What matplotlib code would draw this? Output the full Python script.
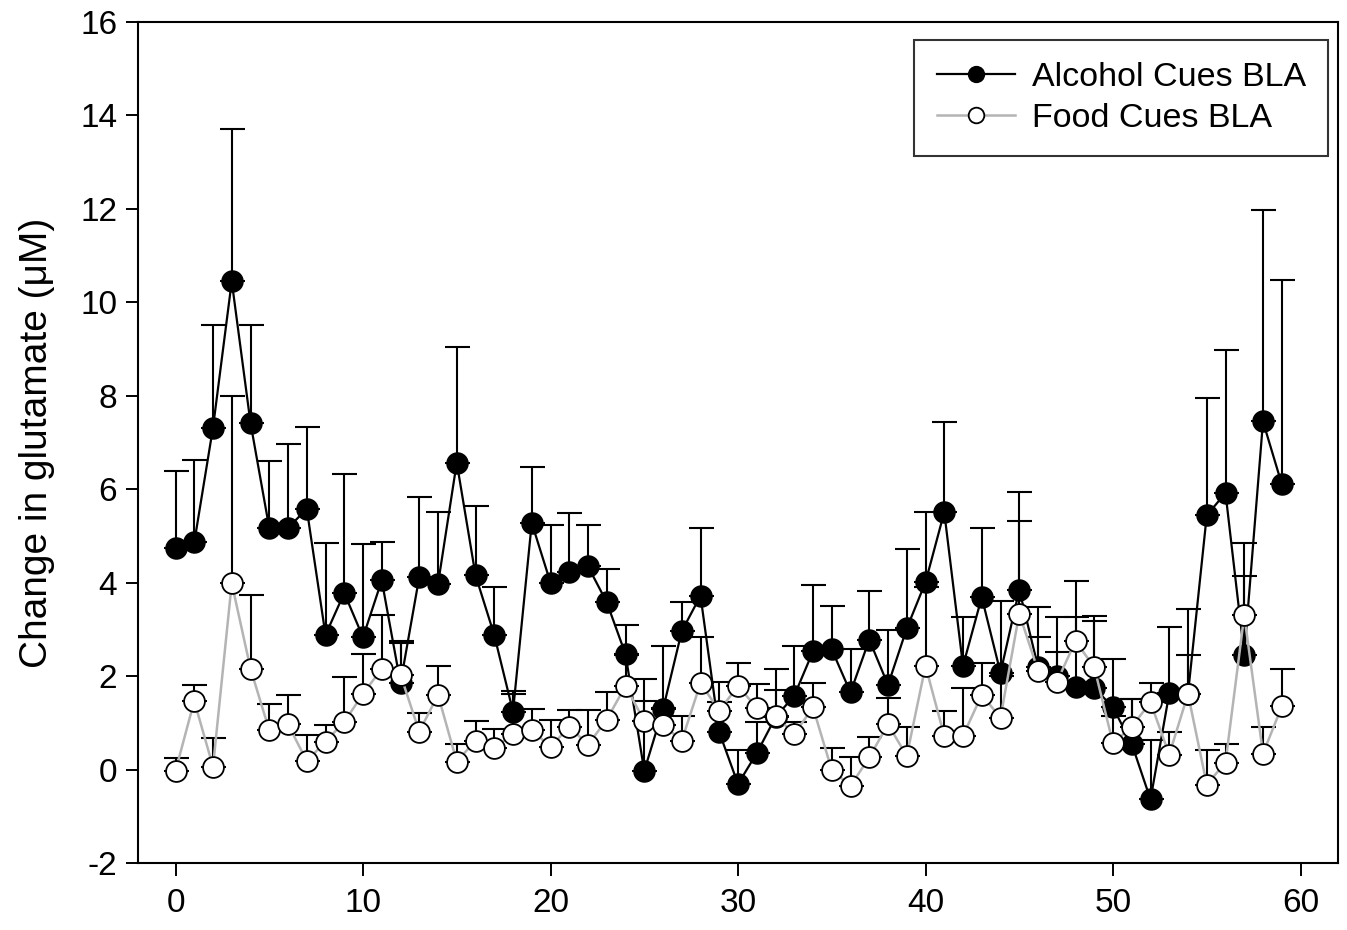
import matplotlib
matplotlib.use("Agg")
import matplotlib.pyplot as plt
import numpy as np

plt.rcParams['font.family'] = ['Liberation Sans', 'DejaVu Sans']
plt.rcParams['axes.unicode_minus'] = False

time_min = list(range(60))

alcohol = [4.75, 4.86, 7.32, 10.45, 7.42, 5.17, 5.17, 5.58, 2.88, 3.78,
           2.83, 4.05, 1.85, 4.12, 3.97, 6.57, 4.16, 2.88, 1.24, 5.28,
           4.00, 4.22, 4.35, 3.58, 2.47, -0.03, 1.29, 2.96, 3.72, 0.80,
           -0.31, 0.35, 1.12, 1.58, 2.53, 2.57, 1.65, 2.78, 1.81, 3.02,
           4.01, 5.51, 2.22, 3.69, 2.07, 3.85, 2.20, 2.00, 1.77, 1.75,
           1.33, 0.55, -0.64, 1.63, 1.62, 5.44, 5.92, 2.46, 7.45, 6.11]
alcohol_upper = [6.38, 6.62, 9.52, 13.71, 9.52, 6.61, 6.96, 7.33, 4.85, 6.33,
                 4.82, 4.88, 2.76, 5.83, 5.52, 9.04, 5.65, 3.90, 1.68, 6.48,
                 5.24, 5.50, 5.24, 4.29, 3.09, 1.94, 2.65, 3.58, 5.16, 1.87,
                 0.42, 1.02, 2.15, 2.64, 3.94, 3.49, 2.58, 3.83, 2.99, 4.72,
                 5.51, 7.44, 3.26, 5.16, 3.60, 5.94, 3.47, 3.27, 3.26, 3.17,
                 2.36, 1.50, 0.63, 3.06, 3.44, 7.96, 8.98, 4.85, 11.98, 10.47]

food = [-0.03, 1.47, 0.06, 3.99, 2.16, 0.84, 0.97, 0.18, 0.60, 1.02,
        1.62, 2.16, 2.03, 0.81, 1.60, 0.17, 0.62, 0.46, 0.76, 0.85,
        0.48, 0.92, 0.53, 1.07, 1.79, 1.04, 0.95, 0.62, 1.85, 1.26,
        1.79, 1.32, 1.15, 0.76, 1.33, -0.01, -0.35, 0.26, 0.97, 0.29,
        2.22, 0.72, 0.72, 1.60, 1.11, 3.34, 2.12, 1.87, 2.75, 2.19,
        0.56, 0.92, 1.44, 0.32, 1.62, -0.32, 0.15, 3.30, 0.34, 1.35]
food_upper = [0.24, 1.81, 0.68, 7.99, 3.74, 1.40, 1.60, 0.75, 0.96, 1.98,
              2.48, 3.30, 2.71, 1.22, 2.22, 0.54, 1.03, 0.86, 1.62, 1.30,
              1.06, 1.27, 1.28, 1.67, 2.46, 1.47, 1.32, 1.15, 2.83, 1.45,
              2.28, 1.83, 1.70, 1.01, 1.85, 0.47, 0.26, 0.69, 1.54, 0.92,
              3.90, 1.26, 1.74, 2.27, 2.00, 5.33, 2.84, 2.51, 4.04, 3.28,
              1.15, 1.52, 1.85, 0.80, 2.46, 0.41, 0.54, 4.15, 0.92, 2.16]

x_ticks = [0, 10, 20, 30, 40, 50, 60]
y_ticks = [-2, 0, 2, 4, 6, 8, 10, 12, 14, 16]
series_labels = ["Alcohol Cues BLA", "Food Cues BLA"]
y_label = "Change in glutamate (\u03bcM)"

fig = plt.figure(figsize=(13.47, 9.30), dpi=100)
ax = fig.add_axes([0.10245, 0.07204, 0.89087, 0.9043])

a = np.array(alcohol)
au = np.array(alcohol_upper)
f = np.array(food)
fu = np.array(food_upper)
xs = np.array(time_min)

ax.errorbar(xs, a, yerr=[np.zeros_like(a), au - a], fmt='none', ecolor='black',
            elinewidth=1.5, capsize=9, capthick=1.5, zorder=2)
ax.plot(xs, a, '-', color='black', lw=1.6, marker='o', markersize=15,
        markerfacecolor='black', markeredgecolor='black', markeredgewidth=1.2,
        label=series_labels[0], zorder=3)
ax.errorbar(xs, f, yerr=[np.zeros_like(f), fu - f], fmt='none', ecolor='black',
            elinewidth=1.5, capsize=9, capthick=1.5, zorder=4)
ax.plot(xs, f, '-', color='#b4b4b4', lw=1.8, marker='o', markersize=15,
        markerfacecolor='white', markeredgecolor='black', markeredgewidth=1.3,
        label=series_labels[1], zorder=5)

ax.set_xlim(-2, 62)
ax.set_ylim(-2, 16)
ax.set_xticks(x_ticks)
ax.set_yticks(y_ticks)
ax.tick_params(axis='both', direction='out', length=9, width=1.4, labelsize=24,
               top=False, right=False)
ax.tick_params(axis='x', pad=9)
ax.tick_params(axis='y', pad=6)
for s in ax.spines.values():
    s.set_linewidth(1.5)

ax.set_ylabel(y_label, fontsize=28, labelpad=18)

leg = ax.legend(loc='upper right', bbox_to_anchor=(0.9917, 0.9786), borderaxespad=0,
                fontsize=24.5, frameon=True, fancybox=False, edgecolor='black',
                handlelength=2.3, handletextpad=0.5, labelspacing=0.3,
                borderpad=0.65, markerscale=0.75)
leg.get_frame().set_linewidth(1.5)

fig.savefig("out.png", dpi=100)
